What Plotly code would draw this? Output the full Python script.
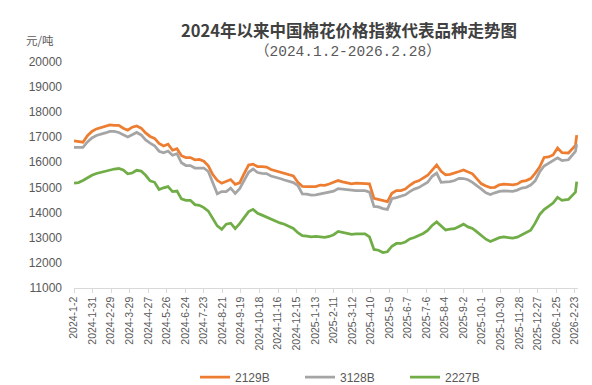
import plotly.graph_objects as go
import pandas as pd

# ---- data ----
weekly_dates = pd.date_range("2024-01-02", periods=111, freq="7D")
extra_dates = ["2026-02-13", "2026-02-24", "2026-02-25", "2026-02-26"]
dates = list(weekly_dates.strftime("%Y-%m-%d")) + extra_dates

series_names = ["2129B", "3128B", "2227B"]

price_2129B = [
    16850, 16830, 16800, 17060, 17230, 17330, 17380, 17420, 17490, 17470,
    17470, 17360, 17280, 17400, 17450, 17360, 17170, 17030, 16950, 16750,
    16650, 16720, 16480, 16540, 16260, 16190, 16190, 16100, 16110, 16040,
    15860, 15510, 15280, 15160, 15240, 15310, 15120, 15180, 15550, 15890,
    15920, 15830, 15830, 15810, 15710, 15660, 15600, 15550, 15530, 15450,
    15200, 15040, 15030, 15040, 15030, 15090, 15080, 15130, 15190, 15270,
    15220, 15180, 15140, 15170, 15170, 15170, 15140, 14560, 14520, 14480,
    14430, 14760, 14870, 14870, 14930, 15080, 15200, 15260, 15370, 15480,
    15690, 15890, 15640, 15500, 15520, 15560, 15630, 15690, 15600, 15540,
    15340, 15140, 15050, 14990, 15000, 15100, 15130, 15110, 15100, 15130,
    15240, 15270, 15350, 15560, 15810, 16190, 16210, 16290, 16570, 16380,
    16370,
    16370, 16670, 16950, 17080,
]

price_3128B = [
    16590, 16590, 16590, 16810, 16970, 17070, 17110, 17170, 17230, 17230,
    17190, 17090, 17010, 17100, 17190, 17090, 16890, 16760, 16660, 16440,
    16380, 16450, 16280, 16340, 15980, 15870, 15870, 15770, 15770, 15770,
    15630, 15210, 14740, 14830, 14830, 14970, 14760, 14950, 15290, 15600,
    15730, 15590, 15560, 15550, 15450, 15410, 15350, 15290, 15240, 15190,
    15070, 14740, 14730, 14690, 14700, 14740, 14760, 14800, 14850, 14950,
    14930, 14900, 14870, 14870, 14870, 14870, 14810, 14240, 14220, 14150,
    14120, 14550, 14590, 14640, 14700, 14830, 14930, 14990, 15090, 15200,
    15440, 15570, 15200, 15200, 15230, 15270, 15360, 15350, 15300, 15200,
    15080, 14930, 14780, 14710, 14780, 14840, 14860, 14860, 14840, 14890,
    14970, 15000, 15090, 15260, 15610, 15850, 15950, 16060, 16180, 16070,
    16080,
    16100, 16430, 16590, 16720,
]

price_2227B = [
    15170, 15190, 15270, 15390, 15480, 15550, 15600, 15640, 15680, 15730,
    15750, 15690, 15540, 15570, 15680, 15650, 15480, 15260, 15200, 14910,
    14980, 15030, 14830, 14850, 14540, 14480, 14480, 14310, 14280, 14190,
    14050, 13760, 13460, 13320, 13530, 13570, 13350, 13550, 13790, 14030,
    14120, 13960, 13890, 13810, 13720, 13630, 13580, 13530, 13450, 13360,
    13190, 13070, 13050, 13020, 13040, 13030, 13000, 13040, 13110, 13240,
    13210, 13160, 13120, 13140, 13140, 13140, 13020, 12520, 12490, 12400,
    12430, 12650, 12760, 12760, 12820, 12940, 13000, 13070, 13160, 13280,
    13480, 13620, 13450, 13300, 13330, 13350, 13440, 13530, 13420, 13360,
    13220, 13070, 12930, 12840, 12920, 12990, 13020, 13000, 12970, 13010,
    13100, 13170, 13290, 13570, 13910, 14110, 14250, 14370, 14600, 14480,
    14510,
    14520, 14810, 15040, 15230,
]

tick_labels = [
    "2024-1-2", "2024-1-31", "2024-2-29", "2024-3-29", "2024-4-27", "2024-5-26",
    "2024-6-24", "2024-7-23", "2024-8-21", "2024-9-19", "2024-10-18", "2024-11-16",
    "2024-12-15", "2025-1-13", "2025-2-11", "2025-3-12", "2025-4-10", "2025-5-9",
    "2025-6-7", "2025-7-6", "2025-8-4", "2025-9-2", "2025-10-1", "2025-10-30",
    "2025-11-28", "2025-12-27", "2026-1-25", "2026-2-23",
]
tick_vals = [pd.to_datetime(t, format="%Y-%m-%d").strftime("%Y-%m-%d") for t in tick_labels]

title_text = "2024年以来中国棉花价格指数代表品种走势图"
subtitle_text = "（2024.1.2-2026.2.28）"
unit_text = "元/吨"

colors = ["#ED7D31", "#A5A5A5", "#70AD47"]

# ---- figure ----
fig = go.Figure()
for name, vals, col in zip(series_names, [price_2129B, price_3128B, price_2227B], colors):
    fig.add_trace(go.Scatter(x=dates, y=vals, name=name, mode="lines",
                             line=dict(color=col, width=2.75)))

base_font = "Liberation Sans, Noto Sans CJK SC, sans-serif"
fig.update_layout(
    width=592, height=385,
    margin=dict(l=66, r=22, t=54, b=104),
    paper_bgcolor="white", plot_bgcolor="white",
    font=dict(family=base_font, size=11, color="#595959"),
    showlegend=True,
    legend=dict(orientation="h", xref="container", yref="container",
                x=187 / 592, y=(385 - 369) / 385, xanchor="left", yanchor="middle",
                font=dict(size=12, color="#595959"),
                entrywidth=60, entrywidthmode="pixels",
                bgcolor="rgba(0,0,0,0)"),
    xaxis=dict(type="date", range=["2024-01-02", "2026-02-28"],
               tickvals=tick_vals, ticktext=tick_labels, tickangle=-90,
               showline=True, linecolor="#D9D9D9", linewidth=1,
               ticks="outside", ticklen=4, tickcolor="#D9D9D9",
               showgrid=False, zeroline=False,
               tickfont=dict(size=10.5, color="#595959")),
    yaxis=dict(range=[11000, 20000], tick0=11000, dtick=1000, tickformat="d",
               showgrid=False, showline=False, zeroline=False,
               ticklabelstandoff=11,
               tickfont=dict(size=12, color="#595959")),
    annotations=[
        dict(text="<b>" + title_text + "</b>", xref="paper", yref="paper",
             x=(341 - 66) / 504, y=(281 - 21.5) / 227, xanchor="center", yanchor="middle",
             showarrow=False, font=dict(family="Noto Sans CJK SC", size=16.5, color="#404040")),
        dict(text=subtitle_text, xref="paper", yref="paper",
             x=(340 - 66) / 504, y=(281 - 43) / 227, xanchor="center", yanchor="middle",
             showarrow=False,
             font=dict(family="Liberation Mono, Noto Sans CJK SC", size=14.5, color="#595959")),
        dict(text=unit_text, xref="paper", yref="paper",
             x=(31.5 - 66) / 504, y=(281 - 32) / 227, xanchor="center", yanchor="middle",
             showarrow=False, font=dict(family="Noto Sans CJK SC", size=11.5, color="#595959")),
    ],
)

fig.write_html("out.html")
